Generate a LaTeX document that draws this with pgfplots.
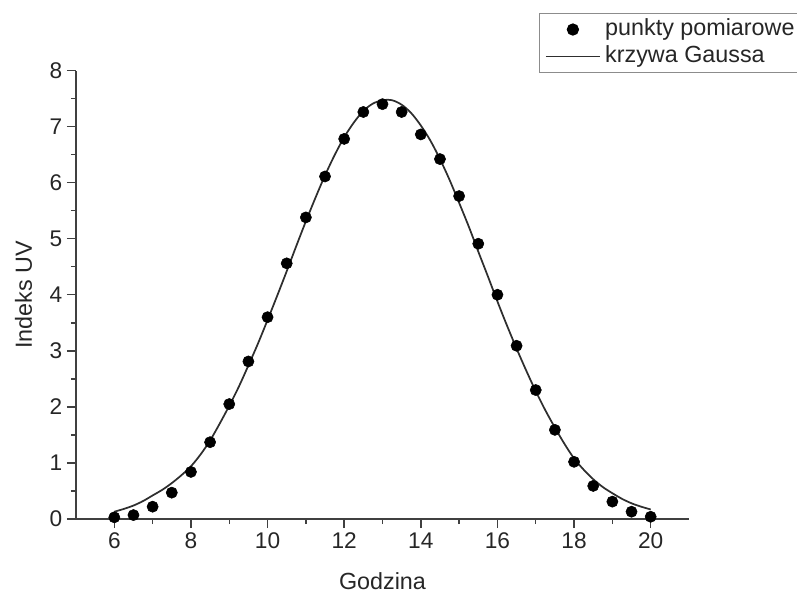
\documentclass[border=0pt]{standalone}
\usepackage{pgfplots}
\pgfplotsset{compat=1.18}
\usepackage{fontspec}
\setmainfont{Liberation Sans}
\definecolor{ax}{HTML}{404040}
\definecolor{crv}{HTML}{2E2E2E}
\pgfplotsset{
  ptleg/.style={legend image code/.code={\path[draw=none,fill=none] (0pt,0pt) -- (45.5pt,0pt); \draw[##1] plot coordinates {(23.25pt,0pt)};}},
  lnleg/.style={legend image code/.code={\path[draw=none,fill=none] (0pt,0pt) -- (45.5pt,0pt); \draw[##1] (3pt,0pt) -- (43.5pt,0pt);}},
}
\begin{document}
\begin{tikzpicture}
\path[use as bounding box] (-57pt,-55.5pt) rectangle (540.75pt,389.25pt);
\begin{axis}[
  scale only axis,
  width=459.75pt, height=336.375pt,
  xmin=5, xmax=21, ymin=0, ymax=8,
  axis lines=left,
  axis line style={-, draw=ax, line width=1.2pt},
  every tick/.style={draw=ax, line width=1.1pt},
  tick align=outside,
  major tick length=6.75pt,
  minor tick length=3.75pt,
  xtick={6,8,...,20},
  ytick={0,1,...,8},
  minor x tick num=1,
  minor y tick num=1,
  /pgf/number format/assume math mode=true,
  tick label style={font=\fontsize{17}{20}\selectfont, text=black!85},
  label style={font=\fontsize{17.5}{21}\selectfont, text=black!85},
  xlabel={Godzina},
  ylabel={Indeks UV},
  xlabel style={at={(axis description cs:0.5,-0.1583)}, anchor=base},
  ylabel style={at={(axis description cs:-0.0718,0.5)}, anchor=base},
  legend style={at={(axis description cs:0.7548,1.1275)}, anchor=north west,
    draw=black!45, line width=0.8pt, fill=white,
    font=\fontsize{17.5}{21}\selectfont, text=black!85,
    inner xsep=2pt, inner ysep=1.6pt, row sep=0pt,
    nodes={inner sep=2pt, text height=12.5pt, text depth=3.8pt}},
  legend cell align=left,
]
\addplot[only marks, mark=*, mark size=4.2pt, black, ptleg]
coordinates {
(6,0.03) (6.5,0.07) (7,0.22) (7.5,0.47) (8,0.84) (8.5,1.37) (9,2.05) (9.5,2.81)
(10,3.60) (10.5,4.56) (11,5.38) (11.5,6.11) (12,6.78) (12.5,7.26) (13,7.40)
(13.5,7.26) (14,6.86) (14.5,6.42) (15,5.76) (15.5,4.91) (16,4.00) (16.5,3.09)
(17,2.30) (17.5,1.59) (18,1.02) (18.5,0.59) (19,0.31) (19.5,0.13) (20,0.04)
};
\addlegendentry{punkty pomiarowe}
\addplot[crv, line width=1.3pt, smooth, no marks, lnleg]
coordinates {
(6.00,0.13) (6.25,0.18) (6.50,0.24) (6.75,0.32) (7.00,0.42) (7.25,0.52)
(7.50,0.64) (7.75,0.78) (8.00,0.94) (8.25,1.15) (8.50,1.40) (8.75,1.70)
(9.00,2.02) (9.25,2.36) (9.50,2.74) (9.75,3.13) (10.00,3.55) (10.25,3.98)
(10.50,4.42) (10.75,4.87) (11.00,5.31) (11.25,5.73) (11.50,6.13) (11.75,6.49)
(12.00,6.81) (12.25,7.07) (12.50,7.28) (12.75,7.41) (13.00,7.47) (13.25,7.47)
(13.50,7.39) (13.75,7.24) (14.00,7.02) (14.25,6.75) (14.50,6.42) (14.75,6.05)
(15.00,5.64) (15.25,5.22) (15.50,4.77) (15.75,4.33) (16.00,3.88) (16.25,3.45)
(16.50,3.04) (16.75,2.65) (17.00,2.28) (17.25,1.94) (17.50,1.63) (17.75,1.34)
(18.00,1.08) (18.25,0.88) (18.50,0.71) (18.75,0.57) (19.00,0.46) (19.25,0.36)
(19.50,0.28) (19.75,0.22) (20.00,0.17)
};
\addlegendentry{krzywa Gaussa}
\end{axis}
\end{tikzpicture}
\end{document}
